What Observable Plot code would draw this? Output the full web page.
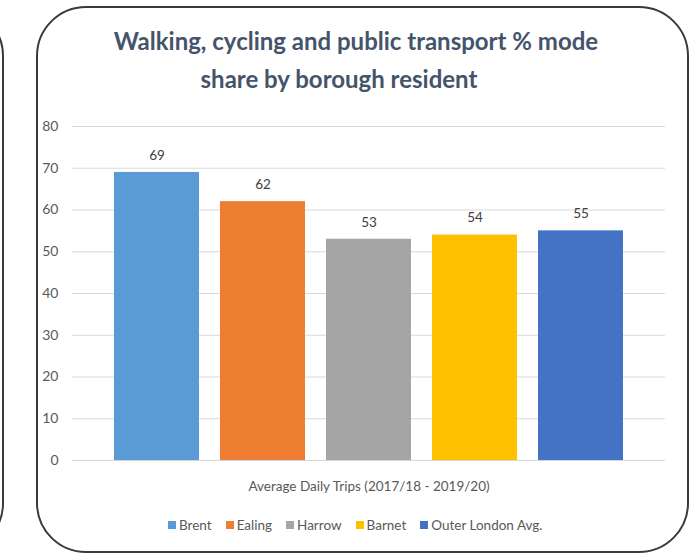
<!DOCTYPE html>
<html><head><meta charset="utf-8">
<script src="https://cdn.jsdelivr.net/npm/d3@7"></script>
<script src="https://cdn.jsdelivr.net/npm/@observablehq/plot@0.6"></script>
<style>
  html,body{margin:0;padding:0;background:#fff;}
  #wrap{position:relative;width:693px;height:556px;overflow:hidden;font-family:Lato,"Open Sans",sans-serif;}
  .box{position:absolute;border:2px solid #3a3a3a;border-radius:50px;background:#fff;box-sizing:border-box;}
  .t{position:absolute;text-align:center;font-weight:bold;color:#44546A;font-size:24px;white-space:nowrap;}
  #plot{position:absolute;left:0;top:0;}
  #xlab{position:absolute;left:0;width:738px;top:478px;text-align:center;font-size:13.5px;color:#595959;white-space:nowrap;}
  #legend{position:absolute;left:168px;top:517px;display:flex;font-size:13.5px;color:#595959;white-space:nowrap;}
  #legend .it{display:flex;align-items:center;margin-right:14px;}
  #legend .sw{width:8px;height:8px;margin-right:3px;}
</style></head>
<body>
<div id="wrap">
  <div class="box" style="left:-649px;top:6px;width:653px;height:547px;"></div>
  <div class="box" style="left:36px;top:6px;width:653px;height:547px;"></div>
  <div id="plot"></div>
  <div class="t" style="left:56px;width:600px;top:26px;">Walking, cycling and public transport % mode</div>
  <div class="t" style="left:39px;width:600px;top:64px;">share by borough resident</div>
  <div id="xlab"></div>
  <div id="legend"></div>
</div>
<script>
const boroughs = ["Brent", "Ealing", "Harrow", "Barnet", "Outer London Avg."];
const shares = [69, 62, 53, 54, 55];
const colors = ["#5B9BD5", "#ED7D31", "#A5A5A5", "#FFC000", "#4472C4"];
const yTicks = [0, 10, 20, 30, 40, 50, 60, 70, 80];
const xTitle = "Average Daily Trips (2017/18 - 2019/20)";

const data = boroughs.map((b, i) => ({name: b, value: shares[i]}));

const chart = Plot.plot({
  width: 693,
  height: 556,
  marginLeft: 72,
  marginRight: 28,
  marginTop: 126,
  marginBottom: 96,
  style: {fontFamily: "Lato, 'Open Sans', sans-serif", fontSize: "13px", color: "#595959", background: "transparent"},
  x: {domain: boroughs, range: [114, 623], paddingInner: 0.2, paddingOuter: 0, axis: null},
  y: {domain: [0, 80], ticks: yTicks, label: null},
  color: {domain: boroughs, range: colors},
  marks: [
    Plot.gridY(yTicks, {stroke: "#d9d9d9", strokeOpacity: 1, strokeWidth: 1}),
    Plot.axisY(yTicks, {tickSize: 0, tickPadding: 14, fontSize: 14, fill: "#595959", label: null}),
    Plot.barY(data, {x: "name", y: "value", fill: "name"}),
    Plot.text(data, {x: "name", y: "value", text: d => String(d.value), dy: -17, fontSize: 13.5, fill: "#404040"})
  ]
});
document.getElementById("plot").appendChild(chart);
document.getElementById("xlab").textContent = xTitle;

const leg = document.getElementById("legend");
boroughs.forEach((b, i) => {
  const it = document.createElement("div"); it.className = "it";
  const sw = document.createElement("div"); sw.className = "sw"; sw.style.background = colors[i];
  const tx = document.createElement("span"); tx.textContent = b;
  it.appendChild(sw); it.appendChild(tx); leg.appendChild(it);
});
</script>
</body></html>
